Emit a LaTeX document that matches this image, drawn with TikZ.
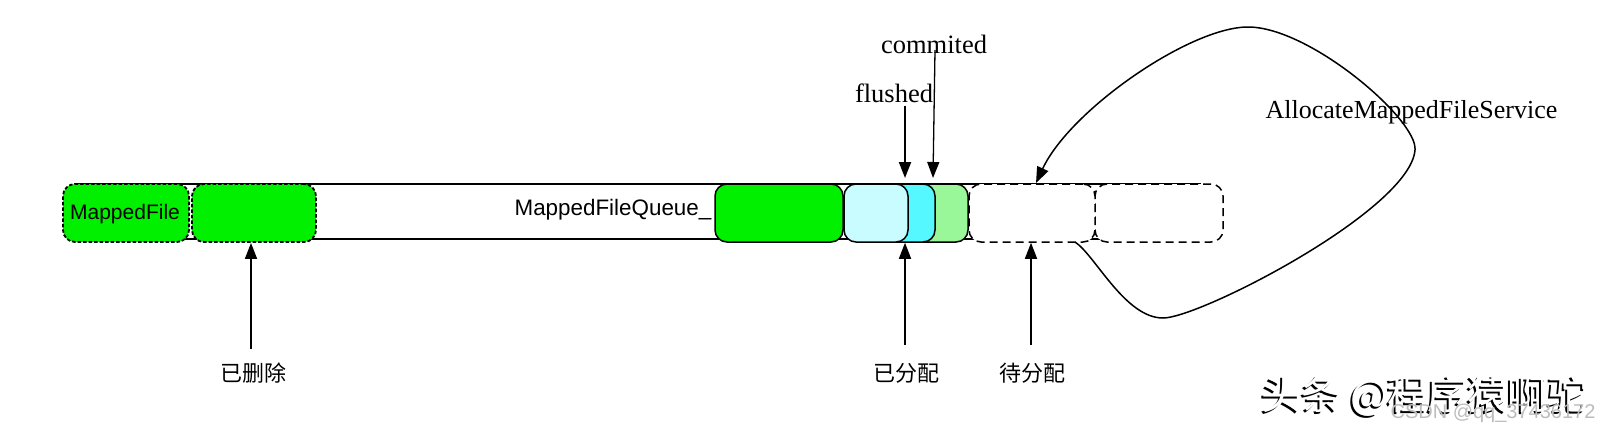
\documentclass[tikz,border=0pt]{standalone}
\usepackage{fontspec}
\setmainfont{Liberation Serif}
\setsansfont{Liberation Sans}
\newfontfamily\cjk{Noto Sans CJK SC}
\usetikzlibrary{arrows.meta}
\definecolor{bgreen}{HTML}{00F000}
\definecolor{lcyan}{HTML}{C8FCFF}
\definecolor{mcyan}{HTML}{55F8FF}
\definecolor{lgreen}{HTML}{99F799}
\definecolor{wmgray}{HTML}{BDBDBD}
\begin{document}
\begin{tikzpicture}[x=1pt,y=-1pt,
  box/.style={draw=black, line width=1.5pt, rounded corners=12pt, inner sep=0pt, minimum height=58pt},
  dotbox/.style={box, line width=1.8pt, dash pattern=on 3.5pt off 2pt, fill=bgreen},
  solidbox/.style={box},
  dashbox/.style={box, dash pattern=on 8pt off 5pt, fill=white},
  arr/.style={line width=1.5pt, -{Triangle[length=16pt,width=12pt]}},
  serif/.style={font=\fontsize{26.5}{30}\selectfont, inner sep=0pt},
  sans/.style={font=\sffamily\fontsize{21}{25}\selectfont, inner sep=0pt},
  cjklabel/.style={font=\cjk\fontsize{22}{26}\selectfont, inner sep=0pt},
  wmstyle/.style={font=\cjk\fontsize{40}{44}\selectfont, inner sep=0pt}]
\useasboundingbox (0,0) rectangle (1608,432);
\fill[white] (0,0) rectangle (1608,432);

% queue
\node[draw=black, line width=1.8pt, inner sep=0pt, minimum width=1125pt, minimum height=55pt] (queue) at (637.5,211.5) {};
\node[sans, font=\sffamily\fontsize{22.4}{26}\selectfont] (qlabel) at (613,210) {MappedFileQueue\_};

% boxes
\node[dotbox, minimum width=126pt] (mf1) at (126,213) {};
\node[sans] (mflabel) at (125,214) {MappedFile};
\node[dotbox, minimum width=124pt] (mf2) at (254,213) {};
\node[solidbox, fill=bgreen, minimum width=128pt] (g3) at (779,213) {};
\node[solidbox, fill=lgreen, minimum width=63pt] (lg) at (936.5,213) {};
\node[solidbox, fill=mcyan, minimum width=55pt] (cy) at (907.5,213) {};
\node[solidbox, fill=lcyan, minimum width=64pt] (lc) at (876,213) {};
\node[dashbox, minimum width=128pt] (pend2) at (1159,213) {};
\node[dashbox, minimum width=126pt] (pend) at (1032,213) {};

% top labels
\node[serif] (flushed) at (894,93) {flushed};
\node[serif] (commited) at (934,44) {commited};
\coordinate (fl1) at (905,106);
\coordinate (fl2) at (905,178);
\coordinate (cm1) at (935,50);
\coordinate (cm2) at (933,178);
\draw[arr, line width=2pt] (fl1) -- (fl2);
\draw[arr, line width=1.3pt] (cm1) -- (cm2);

% bottom labels
\node[cjklabel] (del) at (253,373) {已删除};
\node[cjklabel] (alloc) at (906,373) {已分配};
\node[cjklabel] (topend) at (1032,373) {待分配};
\coordinate (d1) at (251,349);
\coordinate (a1) at (905,345);
\coordinate (p1) at (1031,345);
\draw[arr] (d1) -- (d1 |- mf2.south);
\draw[arr] (a1) -- (a1 |- lc.south);
\draw[arr] (p1) -- (p1 |- pend.south);

% loop
\node[serif, font=\fontsize{26}{30}\selectfont] (svc) at (1411.5,112) {AllocateMappedFileService};
\coordinate (ls) at (1075,242);
\coordinate (le) at (1036,183);
\draw[arr] (ls) .. controls (1095,255) and (1125,318) .. (1163,318)
  .. controls (1200,318) and (1410,210) .. (1415,150)
  .. controls (1418,120) and (1310,27) .. (1248,27)
  .. controls (1190,27) and (1070,110) .. (le);

% watermarks
\node[wmstyle, text=black] (wmshadow) at (1422.5,398.5) {头条 @程序猿啊驼};
\node[wmstyle, text=white] (wm) at (1424.5,396.5) {头条 @程序猿啊驼};
\node[font=\sffamily\fontsize{20}{22}\selectfont, text=wmgray, inner sep=0pt] (csdn) at (1493,413) {CSDN @qq\_37436172};
\end{tikzpicture}
\end{document}
